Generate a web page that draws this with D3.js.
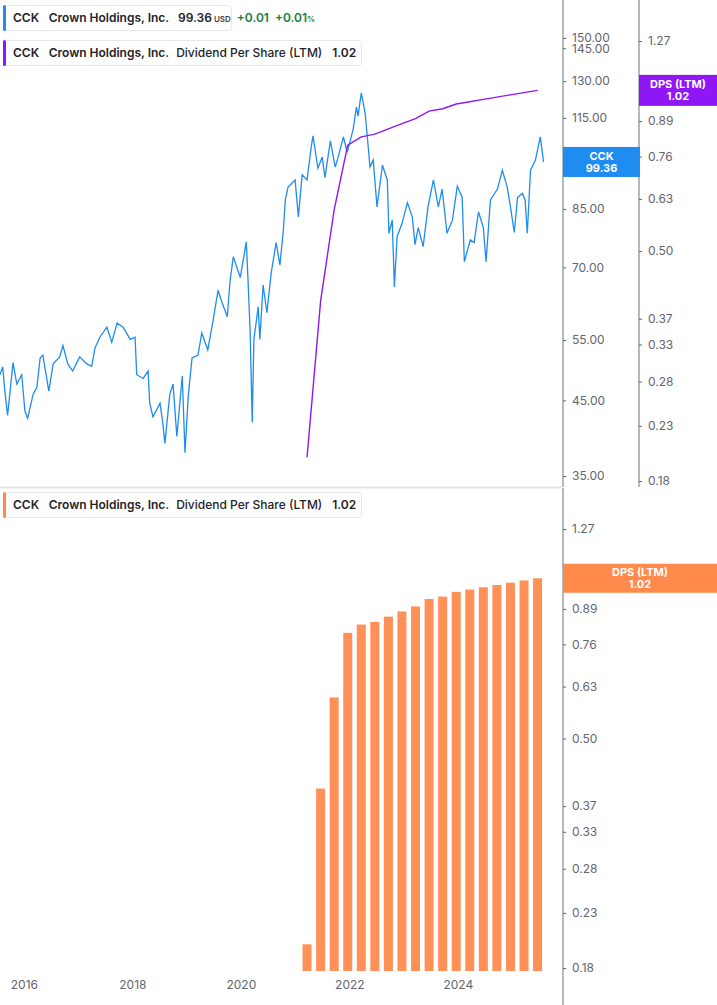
<!DOCTYPE html>
<html><head><meta charset="utf-8">
<script src="https://cdn.jsdelivr.net/npm/d3@7"></script>
<style>
body{margin:0;background:#fff;font-family:Inter,"Noto Sans",sans-serif;}
text{font-family:Inter,"Noto Sans",sans-serif;}
</style></head>
<body><svg id="chart" width="717" height="1005"></svg>
<script>
// price series (decimal year, USD)
var priceYears = [2015.56,2015.61,2015.65,2015.70,2015.80,2015.87,2015.96,2016.02,2016.07,2016.17,2016.24,2016.30,2016.35,2016.46,2016.54,2016.66,2016.72,2016.81,2016.90,2017.03,2017.16,2017.25,2017.31,2017.40,2017.53,2017.62,2017.72,2017.83,2017.96,2018.05,2018.08,2018.20,2018.29,2018.32,2018.38,2018.51,2018.56,2018.60,2018.69,2018.75,2018.82,2018.92,2018.97,2019.03,2019.10,2019.21,2019.28,2019.39,2019.49,2019.58,2019.65,2019.75,2019.80,2019.86,2019.99,2020.10,2020.13,2020.17,2020.21,2020.24,2020.32,2020.35,2020.41,2020.48,2020.56,2020.65,2020.72,2020.78,2020.82,2020.87,2021.00,2021.06,2021.13,2021.22,2021.30,2021.33,2021.42,2021.50,2021.55,2021.65,2021.74,2021.79,2021.89,2021.96,2022.07,2022.13,2022.16,2022.22,2022.29,2022.35,2022.38,2022.44,2022.51,2022.61,2022.70,2022.73,2022.79,2022.83,2022.88,2022.97,2023.07,2023.16,2023.21,2023.27,2023.36,2023.45,2023.55,2023.64,2023.71,2023.80,2023.90,2023.99,2024.08,2024.12,2024.23,2024.30,2024.38,2024.47,2024.52,2024.60,2024.73,2024.82,2024.91,2024.97,2025.04,2025.10,2025.19,2025.24,2025.28,2025.34,2025.43,2025.52,2025.58];
var prices = [49,50.3,46.4,42.8,51,47.5,49,43.4,42.4,45.9,47,51.8,52.3,46.4,50.8,52,54,50.8,49.6,52,50.8,50.4,53.5,55.5,57.4,54.6,58.2,57.4,55.1,55.5,49,48.4,49.6,44.6,42.6,44.6,41.8,39.0,45.9,47.5,39.9,48.8,37.8,45.6,51.8,52.3,56.3,53.2,58.8,64.9,62.4,59.4,66.8,72.5,67.7,76.2,67.7,56.9,41.8,55.1,61.4,55.1,66.0,60.2,68.8,76,70.6,78.6,87.6,91.4,93.6,82.8,95.2,93.6,104.8,108.4,97.3,101,94.3,106.6,97.7,100.7,108,102.6,110.7,119.2,115.7,125,117,104,97.7,100,85.6,98.3,93.6,78.4,81.9,65.6,77.5,81,86.8,82.8,75.5,79.9,75,85.6,93.6,85.6,90.8,78.4,81.9,91.7,88.3,71.3,76.7,76,84.2,79.9,71.3,87.6,90.8,96.7,91.4,85.6,78.6,88.3,89.5,87.6,78.4,96.7,100,108,99.36];

// dividend per share (LTM), quarterly
var dpsYears = [2021.22,2021.47,2021.72,2021.97,2022.22,2022.47,2022.72,2022.97,2023.22,2023.47,2023.72,2023.97,2024.22,2024.47,2024.72,2024.97,2025.22,2025.47];
var dps = [0.20,0.40,0.60,0.80,0.83,0.84,0.86,0.88,0.90,0.93,0.94,0.96,0.97,0.98,0.99,1.00,1.01,1.02];

var priceTicks = [150,145,130,115,100,85,70,55,45,35];
var dpsTicks = [1.27,1.00,0.89,0.76,0.63,0.50,0.37,0.33,0.28,0.23,0.18];
var yearTicks = [2016,2018,2020,2022,2024];

var blue = "#1e8cf0", purple = "#8f17f5", orange = "#ff8a4c", grey = "#5f6570";

var svg = d3.select("#chart");
var plotW = 562;

var x = d3.scaleLinear().domain([2015.56, 2025.92]).range([0, plotW]);
var yPrice = d3.scaleLog().domain([35, 150]).range([476, 38]);
var yDpsTop = d3.scaleLog().domain([0.18, 1.27]).range([481, 41]);
var yDpsBot = d3.scaleLog().domain([0.18, 1.27]).range([968, 529]);

// frames
svg.append("line").attr("x1", 0).attr("x2", plotW).attr("y1", 487.5).attr("y2", 487.5)
	.attr("stroke", "#e2e4e8").attr("stroke-width", 2);

function rightAxis(scale, xpos, y0, y1, ticks, fmt) {
	svg.append("line").attr("x1", xpos).attr("x2", xpos).attr("y1", y0).attr("y2", y1)
		.attr("stroke", "#b5b8bd").attr("stroke-width", 2);
	var g = svg.append("g").attr("transform", "translate(" + xpos + ",0)")
		.call(d3.axisRight(scale).tickValues(ticks).tickFormat(fmt).tickSize(3).tickPadding(6));
	g.select(".domain").remove();
	g.selectAll(".tick line").attr("stroke", grey);
	g.selectAll(".tick text").attr("fill", grey).style("font-size", "12px");
	return g;
}
rightAxis(yPrice, 563, 0, 487, priceTicks, d3.format(".2f"));
rightAxis(yDpsTop, 639, 0, 487, dpsTicks, d3.format(".2f"));
rightAxis(yDpsBot, 563, 488, 1005, dpsTicks, d3.format(".2f"));

// price line
svg.append("path").datum(d3.zip(priceYears, prices))
	.attr("fill", "none").attr("stroke", blue).attr("stroke-width", 1.3)
	.attr("d", d3.line().x(function(d){ return x(d[0]); }).y(function(d){ return yPrice(d[1]); }));

// DPS line on top panel
svg.append("path").datum(d3.zip(dpsYears, dps))
	.attr("fill", "none").attr("stroke", purple).attr("stroke-width", 1.4)
	.attr("d", d3.line()
		.x(function(d){ return x(d[0]); }).y(function(d){ return yDpsTop(d[1]); }));

// DPS bars
svg.append("g").selectAll("rect").data(d3.zip(dpsYears, dps)).enter().append("rect")
	.attr("x", function(d){ return x(d[0]) - 4.5; })
	.attr("width", 9)
	.attr("y", function(d){ return yDpsBot(d[1]); })
	.attr("height", function(d){ return 971 - yDpsBot(d[1]); })
	.attr("fill", "#ff9158");

// x axis
var xa = svg.append("g").attr("transform", "translate(0,978)")
	.call(d3.axisBottom(x).tickValues(yearTicks).tickFormat(d3.format("d")).tickSize(0).tickPadding(2));
xa.select(".domain").remove();
xa.selectAll("text").attr("fill", grey).style("font-size", "12px");

// value tags on the axes
function tag(x0, w, yc, h, color, l1, l2) {
	svg.append("rect").attr("x", x0).attr("y", yc - h / 2).attr("width", w).attr("height", h).attr("fill", color);
	svg.append("text").attr("x", x0 + w / 2).attr("y", yc - 2).attr("text-anchor", "middle")
		.attr("fill", "#fff").style("font-size", "11px").style("font-weight", 700).text(l1);
	svg.append("text").attr("x", x0 + w / 2).attr("y", yc + 10).attr("text-anchor", "middle")
		.attr("fill", "#fff").style("font-size", "11px").style("font-weight", 700).text(l2);
}
tag(563, 77, yPrice(99.36), 30, blue, "CCK", "99.36");
tag(639, 78, yDpsTop(1.02), 31, purple, "DPS (LTM)", "1.02");
tag(563, 154, yDpsBot(1.02), 29, orange, "DPS (LTM)", "1.02");

// legends
function legend(y0, w, color, parts) {
	var g = svg.append("g").attr("transform", "translate(3," + y0 + ")");
	g.append("rect").attr("x", 0.5).attr("y", 0.5).attr("width", w).attr("height", 25).attr("rx", 3)
		.attr("fill", "#fff").attr("stroke", "#e6e8eb");
	g.append("rect").attr("x", 0).attr("y", 0).attr("width", 3).attr("height", 26).attr("rx", 1.5).attr("fill", color);
	var t = g.append("text").attr("x", 10).attr("y", 17).style("font-size", "12px").style("font-weight", 600);
	parts.forEach(function(p) {
		t.append("tspan").attr("dx", p.dx || 0).attr("fill", p.c || "#1f2329")
			.style("font-size", p.s || "12px").style("font-weight", p.w || 600).text(p.t);
	});
}
legend(5, 228, blue, [{t:"CCK"},{t:"Crown Holdings, Inc.",dx:10},{t:"99.36",dx:9},{t:"USD",s:"8px",dx:2,c:"#444"},
	{t:"+0.01",dx:6,c:"#15803d"},{t:"+0.01",dx:6,c:"#15803d"},{t:"%",s:"8px",c:"#15803d"}]);
legend(40, 358, purple, [{t:"CCK"},{t:"Crown Holdings, Inc.",dx:10},{t:"Dividend Per Share (LTM)",dx:7,w:500},{t:"1.02",dx:10}]);
legend(492, 358, orange, [{t:"CCK"},{t:"Crown Holdings, Inc.",dx:10},{t:"Dividend Per Share (LTM)",dx:7,w:500},{t:"1.02",dx:10}]);
</script></body></html>
